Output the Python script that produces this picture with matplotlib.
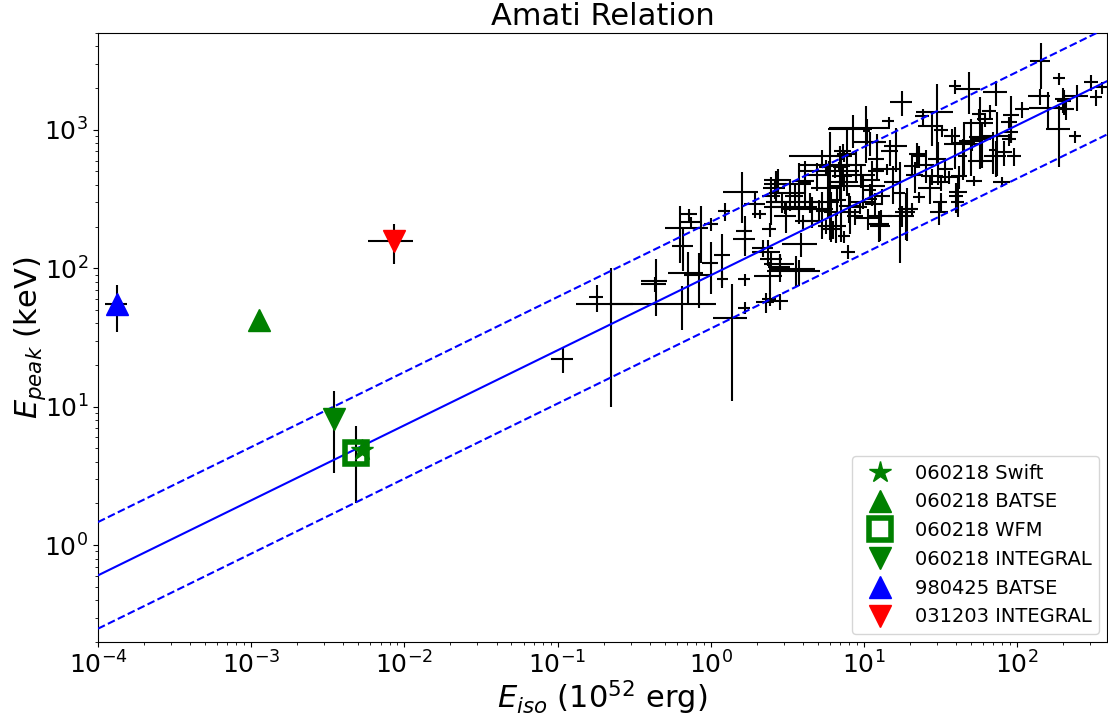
import numpy as np
import matplotlib
matplotlib.use("Agg")
import matplotlib.pyplot as plt

# GRB sample: E_iso in units of 1e52 erg, E_peak in keV (rest frame)
eiso = [0.108, 0.180, 0.222, 0.436, 0.43, 0.645, 0.706, 0.832, 1.0, 0.63,
        0.72, 0.74, 0.66, 1.01, 0.86, 1.19, 1.19, 1.23, 1.61, 1.66,
        1.66, 1.66, 1.66, 1.38, 2.08, 2.42, 2.35, 2.49, 2.81, 3.6,
        2.42, 2.42, 2.81, 2.28, 2.85, 3.74, 2.73, 2.65, 2.61, 2.49,
        3.79, 4.15, 3.52, 3.74, 4.0, 5.61, 6.23, 6.04, 5.36, 5.61,
        4.41, 5.12, 7.13, 8.5, 10.3, 10.4, 10.9, 14.5, 17.6, 24.1,
        27.6, 30.0, 32.1, 39.5, 48.8, 73.0, 142, 188, 140, 305,
        359, 328, 247, 203, 209, 160, 188, 240, 56.6, 66.0,
        50.0, 91.6, 108, 89.0, 91.6, 89.0, 74.0, 59.0, 45.0, 37.8,
        73.0, 96.0, 59.0, 52.6, 80.0, 42.0, 40.0, 40.8, 200, 57.0,
        12.1, 7.3, 7.46, 6.9, 7.3, 7.46, 7.0, 7.7, 6.5, 9.9,
        12.1, 12.1, 11.2, 13.2, 14.2, 16.3, 20.7, 23.0, 30.2, 28.0,
        31.6, 39.5, 36.0, 44.0, 51.0, 58.0, 62.0, 70.0, 82.6, 3.03,
        8.16, 8.8, 9.35, 9.78, 11.2, 7.46, 7.92, 12.8, 13.0, 17.1,
        18.7, 20.7, 23.0, 19.2, 31.6, 31.0, 41.3, 8.04, 6.6, 12.6,
        22.3, 10.9, 4.55, 5.36, 6.1, 5.95, 4.6, 4.6, 4.15,
        3.1, 3.3, 4.9, 5.8, 6.7, 8.9, 9.6, 11.8, 15.5, 17.8,
        21.5, 25.5, 27.0, 34.0, 2.9, 3.9, 1.95, 2.2, 10.6, 14.8]
eiso_err = [0.018, 0.019, 0.09, 0.085, 0.08, 0.43, 0.18, 0.16, 0.12, 0.13,
            0.087, 0.11, 0.10, 0.11, 0.10, 0.14, 0.10, 0.11, 0.41, 0.20,
            0.27, 0.15, 0.15, 0.34, 0.22, 0.25, 0.49, 0.41, 0.46, 1.2,
            0.51, 0.25, 0.38, 0.31, 0.64, 1.4, 0.49, 0.44, 0.43, 0.34,
            0.74, 0.37, 0.48, 1.2, 0.48, 0.59, 0.84, 2.3, 2.1, 0.5,
            0.53, 0.61, 0.7, 2.7, 4.4, 0.6, 2.4, 1.3, 2.9, 2.5,
            5.0, 8.0, 3.4, 3.6, 8.8, 13, 21, 17, 23, 32,
            32, 30, 44, 21, 25, 40, 34, 22, 6.0, 7.0,
            8.0, 11, 11, 11, 10, 9.0, 15, 8.0, 8.0, 4.5,
            12, 10, 11, 6.0, 10, 5.0, 4.0, 4.0, 24, 12,
            1.8, 0.9, 0.9, 1.2, 1.1, 1.7, 0.7, 1.0, 2.8, 3.9,
            1.4, 1.4, 1.5, 1.6, 3.0, 2.7, 2.5, 2.8, 4.0, 4.6,
            3.8, 6.0, 5.4, 3.0, 6.0, 9.5, 7.0, 5.0, 10, 0.8,
            1.2, 1.1, 1.1, 1.8, 1.0, 0.7, 0.83, 1.9, 2.3, 1.5,
            2.8, 1.9, 2.0, 2.6, 3.3, 4.2, 5.6, 1.2, 1.0, 1.9,
            2.7, 1.1, 0.68, 0.5, 0.6, 0.7, 2.3, 1.65, 0.6,
            0.5, 0.9, 0.8, 1.3, 0.9, 1.4, 2.2, 1.6, 2.0, 3.5,
            2.6, 3.0, 4.5, 4.0, 0.4, 1.0, 0.3, 0.35, 1.8, 1.9]
epeak = [22, 62, 55, 81, 77, 55, 93, 90, 110, 195,
         245, 215, 144, 208, 195, 125, 83, 258, 354, 185,
         162, 83, 52, 44, 245, 191, 131, 116, 102, 98,
         87.5, 59.7, 57.8, 56.9, 107, 95, 432, 404, 378, 331,
         404, 418, 331, 276, 218, 201, 191, 560, 644, 536,
         300, 267, 420, 1009, 1028, 975, 812, 1151, 1581, 1251,
         1059, 1350, 991, 2061, 1960, 1866, 3125, 2355, 1746, 2203,
         2028, 1718, 1746, 1607, 1406, 1440, 1009, 897, 1294, 1361,
         830, 1280, 1406, 1132, 959, 853, 900, 853, 800, 897,
         644, 644, 593, 425, 418, 461, 330, 300, 1660, 1120,
         812, 700, 644, 545, 461, 418, 537, 670, 500, 391,
         612, 501, 437, 331, 519, 760, 545, 644, 612, 461,
         418, 785, 454, 645, 785, 883, 1191, 720, 688, 276,
         254, 237, 276, 300, 315, 170, 131, 201, 237, 350,
         254, 267, 326, 267, 300, 254, 354, 281, 201, 208,
         665, 366, 218, 258, 254, 545, 300, 267, 430,
         240, 350, 470, 380, 310, 560, 470, 290, 420, 240,
         470, 560, 380, 520, 300, 150, 290, 140, 230, 700]
epeak_err = [4.4, 14, 45, 36, 10, 19, 39, 38, 45, 85,
             24, 21, 48, 21, 85, 51, 11, 39, 141, 52,
             40, 8.3, 5.2, 33, 20, 22, 28, 15, 22, 24,
             23, 6.0, 7.7, 9.5, 20, 20, 86, 100, 63, 127,
             168, 70, 66, 69, 25, 23, 29, 400, 75, 71,
             50, 44, 265, 276, 450, 214, 160, 96, 315, 166,
             300, 780, 99, 240, 650, 370, 1140, 235, 232, 293,
             200, 230, 377, 320, 234, 430, 470, 90, 130, 160,
             365, 470, 190, 95, 160, 85, 440, 280, 335, 120,
             190, 96, 60, 35, 35, 90, 80, 40, 330, 600,
             120, 93, 54, 45, 77, 56, 222, 340, 50, 70,
             81, 67, 156, 44, 50, 265, 90, 118, 210, 61,
             56, 260, 50, 208, 80, 80, 140, 240, 140, 30,
             76, 32, 28, 30, 31, 17, 15, 43, 25, 240,
             93, 27, 32, 110, 50, 50, 118, 70, 50, 52,
             133, 42, 22, 96, 100, 50, 25, 30, 163,
             60, 90, 110, 150, 70, 140, 90, 60, 130, 40,
             120, 150, 90, 110, 50, 30, 60, 20, 40, 150]

# low-luminosity bursts shown with their own symbols
grb_labels = ['060218 Swift', '060218 BATSE', '060218 WFM',
              '060218 INTEGRAL', '980425 BATSE', '031203 INTEGRAL']
grb_eiso = [5.3e-3, 1.12e-3, 4.8e-3, 3.47e-3, 1.33e-4, 8.6e-3]
grb_eiso_err = [0, 0, 0, 0, 0.22e-4, 2.8e-3]
grb_epeak = [4.9, 42, 4.6, 8.1, 55, 157]
grb_epeak_err = [0, 0, 2.6, 4.8, 20.5, 50]
grb_markers = ['*', '^', 's', 'v', '^', 'v']
grb_colors = ['g', 'g', 'g', 'g', 'b', 'r']

# Amati fit: E_peak = norm * E_iso**index, dashed lines at +-scatter (dex)
amati_norm = 89.0
amati_index = 0.542
amati_scatter = 0.385


fig, ax = plt.subplots(figsize=(11.08, 7.18), dpi=100)
fig.subplots_adjust(left=0.0884, right=0.999, bottom=0.106, top=0.954)

ax.errorbar(eiso, epeak, xerr=eiso_err, yerr=epeak_err, fmt='none',
            ecolor='k', elinewidth=1.5, zorder=2)
ax.errorbar(grb_eiso, grb_epeak, xerr=grb_eiso_err, yerr=grb_epeak_err,
            fmt='none', ecolor='k', elinewidth=1.5, zorder=2)

xfit = np.logspace(-4, 2.7, 100)
yfit = amati_norm * xfit ** amati_index
ax.plot(xfit, yfit, 'b-', lw=1.5, zorder=3)
ax.plot(xfit, yfit * 10 ** amati_scatter, 'b--', lw=1.5, zorder=3)
ax.plot(xfit, yfit * 10 ** -amati_scatter, 'b--', lw=1.5, zorder=3)

for x, y, m, c, lab in zip(grb_eiso, grb_epeak, grb_markers, grb_colors, grb_labels):
    if m == 's':
        ax.plot(x, y, m, ms=16, mfc='none', mec=c, mew=4, label=lab, zorder=4)
    else:
        ax.plot(x, y, m, ms=16, color=c, label=lab, zorder=4)

ax.set_xscale('log')
ax.set_yscale('log')
ax.set_xlim(1e-4, 385)
ax.set_ylim(0.2, 5000)
ax.tick_params(labelsize=18)
ax.set_xlabel(r'$E_{iso}$ ($10^{52}$ erg)', fontsize=22, labelpad=0)
ax.set_ylabel(r'$E_{peak}$ (keV)', fontsize=22, labelpad=-3)
ax.set_title('Amati Relation', fontsize=22)
ax.legend(loc='lower right', fontsize=14, borderaxespad=0.4)

fig.savefig('out.png', dpi=100)
